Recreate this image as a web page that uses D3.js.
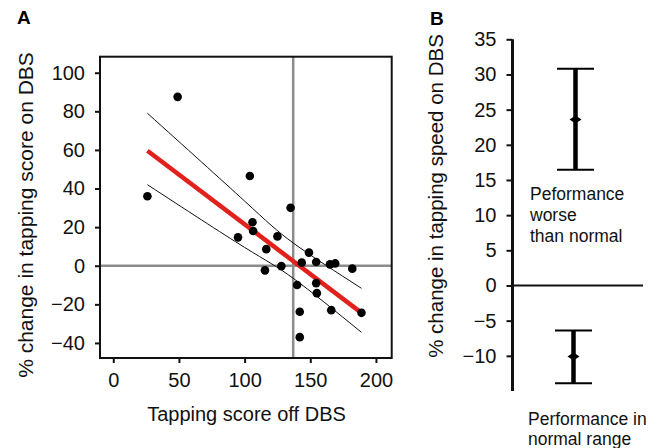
<!DOCTYPE html>
<html>
<head>
<meta charset="utf-8">
<script src="https://cdn.jsdelivr.net/npm/d3@7"></script>
<style>
  html, body { margin: 0; padding: 0; background: #fff; }
  svg { display: block; font-family: "Liberation Sans", Arial, sans-serif; }
</style>
</head>
<body>
<svg id="chart" width="662" height="448"></svg>
<script>
// ---------------- Data (panel A) ----------------
const tapOff = [49, 26, 104, 135, 106, 106.5, 95, 125, 116.5, 115.5, 128, 149, 143.5, 154.5, 165, 169, 182, 140, 154.5, 155, 142, 166, 189, 142];
const pctChange = [87.5, 36, 46.5, 30, 22.5, 18, 14.7, 15.2, 8.6, -2.4, -0.2, 6.8, 1.6, 1.9, 0.7, 1.2, -1.5, -10, -9, -14.2, -23.8, -23, -24.4, -37];
const fitX = [26, 189];
const fitY = [59.6, -24.4];
const bandX = [26, 100, 137, 189];
const bandUpper = [79, 33.5, 11.8, -11.7];
const bandLower = [42, 9.5, -6.5, -34.5];
const refX = 137;   // vertical reference line (tapping score)
const refY = 0;     // horizontal reference line
const xTicksA = [0, 50, 100, 150, 200];
const yTicksA = [-40, -20, 0, 20, 40, 60, 80, 100];

// ---------------- Data (panel B) ----------------
const groups = ["Peformance worse than normal", "Performance in normal range"];
const groupMean = [23.6, -10.1];
const groupLow = [16.45, -13.9];
const groupHigh = [30.8, -6.4];
const yTicksB = [-10, -5, 0, 5, 10, 15, 20, 25, 30, 35];

const svg = d3.select("#chart");
const ink = "#111";

// ================= Panel A =================
const xA = d3.scaleLinear().domain([-10.1, 212]).range([100, 391.7]);
const yA = d3.scaleLinear().domain([-47.8, 108.3]).range([358, 56.7]);
const gA = svg.append("g");

// reference lines
gA.append("line")
  .attr("x1", xA(refX)).attr("x2", xA(refX))
  .attr("y1", yA.range()[1]).attr("y2", yA.range()[0])
  .attr("stroke", "#8c8c8c").attr("stroke-width", 2.5);
gA.append("line")
  .attr("x1", xA.range()[0]).attr("x2", xA.range()[1])
  .attr("y1", yA(refY)).attr("y2", yA(refY))
  .attr("stroke", "#8c8c8c").attr("stroke-width", 2.5);

// confidence band lines
const bandLine = d3.line().curve(d3.curveNatural);
gA.append("path")
  .attr("d", bandLine(bandX.map((x, i) => [xA(x), yA(bandUpper[i])])))
  .attr("fill", "none").attr("stroke", ink).attr("stroke-width", 1);
gA.append("path")
  .attr("d", bandLine(bandX.map((x, i) => [xA(x), yA(bandLower[i])])))
  .attr("fill", "none").attr("stroke", ink).attr("stroke-width", 1);

// regression line
gA.append("path")
  .attr("d", d3.line()(fitX.map((x, i) => [xA(x), yA(fitY[i])])))
  .attr("fill", "none").attr("stroke", "#e3211c").attr("stroke-width", 4.5);

// points
gA.selectAll("circle.pt").data(tapOff.map((x, i) => [x, pctChange[i]]))
  .join("circle").attr("class", "pt")
  .attr("cx", d => xA(d[0])).attr("cy", d => yA(d[1]))
  .attr("r", 4.3).attr("fill", "#000");

// frame
gA.append("rect")
  .attr("x", xA.range()[0]).attr("y", yA.range()[1])
  .attr("width", xA.range()[1] - xA.range()[0])
  .attr("height", yA.range()[0] - yA.range()[1])
  .attr("fill", "none").attr("stroke", ink).attr("stroke-width", 2);

// axes
const axA_x = gA.append("g").attr("transform", `translate(0,${yA.range()[0]})`)
  .call(d3.axisBottom(xA).tickValues(xTicksA).tickSize(5).tickPadding(10));
const axA_y = gA.append("g").attr("transform", `translate(${xA.range()[0]},0)`)
  .call(d3.axisLeft(yA).tickValues(yTicksA).tickSize(5).tickPadding(10));
[axA_x, axA_y].forEach(a => {
  a.select(".domain").remove();
  a.selectAll("line").attr("stroke", ink).attr("stroke-width", 2);
  a.selectAll("text").attr("font-size", 20).attr("fill", ink)
    .attr("font-family", "Liberation Sans, Arial, sans-serif");
});

gA.append("text").attr("x", 246.5).attr("y", 421)
  .attr("text-anchor", "middle").attr("font-size", 20).attr("fill", ink)
  .text("Tapping score off DBS");
gA.append("text").attr("transform", "translate(26,215) rotate(-90)")
  .attr("text-anchor", "middle").attr("dy", "0.35em")
  .attr("font-size", 21).attr("fill", ink)
  .text("% change in tapping score on DBS");
gA.append("text").attr("x", 17).attr("y", 24)
  .attr("font-size", 19).attr("font-weight", "bold").attr("fill", "#000").text("A");

// ================= Panel B =================
const yB = d3.scaleLinear().domain([-15, 35]).range([391, 39.3]);
const xB = d3.scalePoint().domain(groups).range([575.5, 573.5]);
const axisXB = 512.5;
const gB = svg.append("g");

gB.append("text").attr("x", 430).attr("y", 25)
  .attr("font-size", 19).attr("font-weight", "bold").attr("fill", "#000").text("B");

// zero line
gB.append("line")
  .attr("x1", axisXB).attr("x2", 643)
  .attr("y1", yB(0)).attr("y2", yB(0))
  .attr("stroke", ink).attr("stroke-width", 2);

// axis
const axB = gB.append("g").attr("transform", `translate(${axisXB},0)`)
  .call(d3.axisLeft(yB).tickValues(yTicksB).tickSize(6).tickPadding(10));
axB.select(".domain").remove();
axB.selectAll("line").attr("stroke", ink).attr("stroke-width", 2);
axB.selectAll("text").attr("font-size", 20).attr("fill", ink)
  .attr("font-family", "Liberation Sans, Arial, sans-serif");
gB.append("line")
  .attr("x1", axisXB).attr("x2", axisXB)
  .attr("y1", yB.range()[0]).attr("y2", yB.range()[1])
  .attr("stroke", ink).attr("stroke-width", 3);

// error bars
const capHalf = 18.5;
groups.forEach((g, i) => {
  const cx = xB(g);
  gB.append("line").attr("x1", cx).attr("x2", cx)
    .attr("y1", yB(groupLow[i])).attr("y2", yB(groupHigh[i]))
    .attr("stroke", "#000").attr("stroke-width", 4.5);
  [groupLow[i], groupHigh[i]].forEach(v => {
    gB.append("line").attr("x1", cx - capHalf).attr("x2", cx + capHalf)
      .attr("y1", yB(v)).attr("y2", yB(v))
      .attr("stroke", "#000").attr("stroke-width", 2);
  });
  const my = yB(groupMean[i]);
  gB.append("path")
    .attr("d", `M${cx - 6},${my} L${cx},${my - 4} L${cx + 6},${my} L${cx},${my + 4} Z`)
    .attr("fill", "#000");
});

// annotations
const ann1 = gB.append("text").attr("font-size", 17.5).attr("fill", ink);
["Peformance", "worse", "than normal"].forEach((t, i) => {
  ann1.append("tspan").attr("x", 530).attr("y", 200 + i * 21).text(t);
});
const ann2 = gB.append("text").attr("font-size", 17.5).attr("fill", ink);
["Performance in", "normal range"].forEach((t, i) => {
  ann2.append("tspan").attr("x", 528).attr("y", 425 + i * 19.5).text(t);
});

gB.append("text").attr("transform", "translate(436,196) rotate(-90)")
  .attr("text-anchor", "middle").attr("dy", "0.35em")
  .attr("font-size", 20.5).attr("fill", ink)
  .text("% change in tapping speed on DBS");
</script>
</body>
</html>
